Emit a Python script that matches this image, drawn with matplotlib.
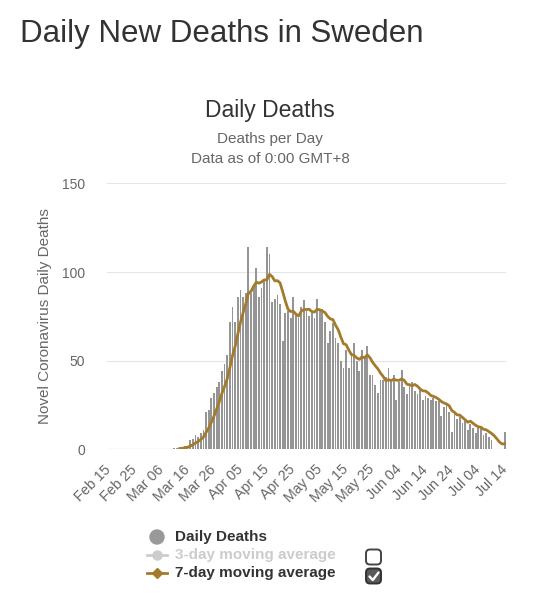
import matplotlib
matplotlib.use("Agg")
import matplotlib.pyplot as plt
import pandas as pd
from matplotlib.patches import FancyBboxPatch, Circle
from matplotlib.lines import Line2D

plt.rcParams['font.family'] = ['Liberation Sans', 'DejaVu Sans']

# ---------------- data ----------------
dates = pd.date_range("2020-02-15", "2020-07-14", freq="D")
categories = [d.strftime("%b %d") for d in dates]

daily_deaths = [
    # Feb 15 - Mar 10
    0, 0, 0, 0, 0, 0, 0, 0, 0, 0, 0, 0, 0, 0, 0, 0, 0, 0, 0, 0, 0, 0, 0, 0, 0,
    # Mar 11 - Mar 22
    1, 1, 1, 1, 2, 2, 5, 6, 8, 7, 9, 11,
    # Mar 23 - Apr 07
    21, 22, 29, 32, 35, 38, 44, 48, 53, 72, 80, 72, 86, 90, 86, 88,
    # Apr 08 - Apr 23
    114, 88, 92, 102, 86, 91, 96, 114, 110, 83, 85, 87, 82, 61, 77, 78,
    # Apr 24 - May 09
    74, 86, 76, 74, 80, 84, 78, 75, 77, 74, 85, 78, 79, 72, 60, 67,
    # May 10 - May 25
    71, 63, 60, 50, 46, 56, 46, 53, 60, 50, 44, 56, 52, 58, 42, 42,
    # May 26 - Jun 08
    36, 32, 39, 39, 41, 46, 38, 42, 28, 38, 45, 35, 31, 36,
    # Jun 09 - Jun 24
    38, 33, 31, 34, 28, 30, 29, 28, 29, 27, 27, 19, 24, 25, 21, 10,
    # Jun 25 - Jul 14
    20, 17, 18, 15, 16, 11, 14, 12, 9, 12, 13, 8, 9, 7, 5, 0, 0, 0, 0, 10,
]
avg_start_label = "Mar 13"

tick_labels = categories[::10]

series = pd.Series(daily_deaths, dtype=float)
ma7 = series.rolling(7, min_periods=1).mean()

# ---------------- styles ----------------
BAR_COLOR = "#959595"
LINE_COLOR = "#a47a2b"
GRID_COLOR = "#e6e6e6"
TEXT_DARK = "#333333"
TEXT_GRAY = "#666666"

W, H = 539, 600
fig = plt.figure(figsize=(W / 100, H / 100), dpi=100)

left_px, right_px, top_px, bottom_px = 107, 506, 183.4, 449.3
ax = fig.add_axes([left_px / W, 1 - bottom_px / H,
                   (right_px - left_px) / W, (bottom_px - top_px) / H])

x = list(range(len(categories)))
ax.bar(x, daily_deaths, width=0.68, color=BAR_COLOR, zorder=2)

start = categories.index(avg_start_label)
ax.plot(x[start:], ma7.values[start:], color=LINE_COLOR, lw=2.0, zorder=3,
        solid_joinstyle="round")

ax.set_xlim(-0.5, len(categories) - 0.5)
ax.set_ylim(0, 150)
ax.set_yticks([0, 50, 100, 150])
for yv in [50, 100, 150]:
    ax.axhline(yv, color=GRID_COLOR, lw=0.8, zorder=1)
ax.axhline(0, color="#ccd6eb", lw=0.9, zorder=1)
for s in ax.spines.values():
    s.set_visible(False)

ax.set_xticks(x[::10])
ax.set_xticklabels(tick_labels, rotation=45, ha="right", va="center",
                   rotation_mode="anchor", fontsize=10.3, color=TEXT_GRAY)
ax.tick_params(axis="x", length=0, pad=13)
ax.tick_params(axis="y", length=0, pad=16, labelsize=10, labelcolor=TEXT_GRAY)

# ---------------- titles ----------------
fig.text(20 / W, 1 - 42 / H, "Daily New Deaths in Sweden", fontsize=22.5,
         color=TEXT_DARK, ha="left", va="baseline")
fig.text(270 / W, 1 - 117 / H, "Daily Deaths", fontsize=16.5,
         color=TEXT_DARK, ha="center", va="baseline")
fig.text(270 / W, 1 - 143 / H, "Deaths per Day", fontsize=11,
         color=TEXT_GRAY, ha="center", va="baseline")
fig.text(270 / W, 1 - 163 / H, "Data as of 0:00 GMT+8", fontsize=11,
         color=TEXT_GRAY, ha="center", va="baseline")
fig.text(45 / W, 1 - 316 / H, "Novel Coronavirus Daily Deaths", fontsize=11,
         color=TEXT_GRAY, rotation=90, ha="center", va="center")

# ---------------- legend (pixel overlay) ----------------
lax = fig.add_axes([0, 0, 1, 1])
lax.set_xlim(0, W)
lax.set_ylim(H, 0)
lax.axis("off")

rows = [537, 555, 573]
lax.add_patch(Circle((157, rows[0]), 7, color="#999999"))
lax.text(175, rows[0], "Daily Deaths", fontsize=11, fontweight="bold",
         color=TEXT_DARK, va="center", ha="left")

lax.add_line(Line2D([147, 167], [rows[1], rows[1]], color="#cccccc", lw=2))
lax.plot([157], [rows[1]], marker="o", ms=6.5, color="#cccccc")
lax.text(175, rows[1], "3-day moving average", fontsize=11, fontweight="bold",
         color="#cccccc", va="center", ha="left")

lax.add_line(Line2D([147, 167], [rows[2], rows[2]], color=LINE_COLOR, lw=2))
lax.plot([157], [rows[2]], marker="D", ms=5.5, color=LINE_COLOR)
lax.text(175, rows[2], "7-day moving average", fontsize=11, fontweight="bold",
         color=TEXT_DARK, va="center", ha="left")

# checkboxes
lax.add_patch(FancyBboxPatch((366, 549.5), 15, 15,
                             boxstyle="round,pad=0,rounding_size=4",
                             facecolor="white", edgecolor="#444444", lw=1.4))
lax.add_patch(FancyBboxPatch((366, 568.5), 15, 15,
                             boxstyle="round,pad=0,rounding_size=4",
                             facecolor="#5a5a5a", edgecolor="#333333", lw=1.4))
lax.add_line(Line2D([369.5, 372.8, 378.5], [576.5, 580, 572.5],
                    color="white", lw=1.7, solid_capstyle="round",
                    solid_joinstyle="round"))

fig.savefig("out.png", dpi=100)
